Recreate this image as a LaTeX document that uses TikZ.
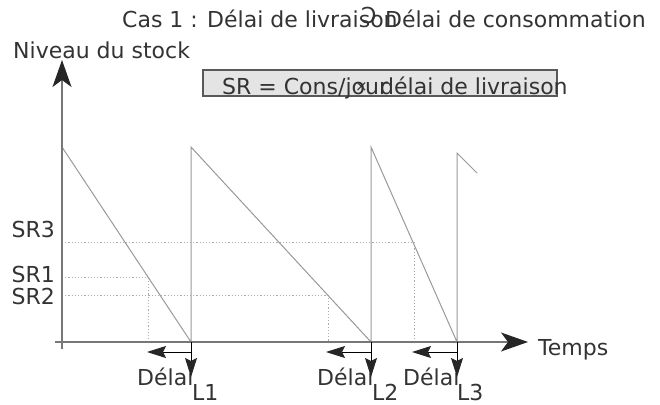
\documentclass[tikz,border=0pt]{standalone}
\usepackage{fontspec}
\setmainfont{DejaVu Sans}
\usepackage{tikz}
\usetikzlibrary{arrows.meta}
\definecolor{txtgray}{HTML}{333333}
\definecolor{sawgray}{HTML}{999999}
\definecolor{axisgray}{HTML}{777777}
\definecolor{boxgray}{HTML}{E4E4E4}

\begin{document}
\begin{tikzpicture}[x=1pt,y=-1pt,
    lbl/.style={inner sep=0pt,anchor=base west,text=txtgray,font=\fontsize{22}{26}\selectfont},
    lblr/.style={lbl,anchor=base east},
    saw/.style={draw=sawgray,line width=1pt},
    guide/.style={draw=sawgray!80,line width=1pt,dash pattern=on 1.2pt off 2pt},
    axis/.style={draw=axisgray,line width=1.3pt},
    bigtip/.style={-{Stealth[length=27pt,width=19pt,inset=7pt,color=black!85]}},
    delai/.style={draw=black,line width=1pt,-{Stealth[length=19pt,width=12pt,inset=3pt,color=black!85]}},
    srbox/.style={draw=black!65,fill=boxgray,line width=1.3pt,inner sep=0pt}]
        \useasboundingbox (0,0) rectangle (660,404);
        %Points
        \coordinate (ybot) at (62,349);
        \coordinate (ytip) at (62,60);
        \coordinate (xbeg) at (55,342);
        \coordinate (xtip) at (528,342);
        \coordinate (p0) at (62,147);
        \coordinate (b1) at (191,342);
        \coordinate (p1) at (191,147);
        \coordinate (b2) at (371,342);
        \coordinate (p2) at (371,147);
        \coordinate (b3) at (457,342);
        \coordinate (p3) at (457,153);
        \coordinate (e3) at (477,173);
        %Title
        \node[lbl] (cas) at (122,28) {Cas 1 : Délai de livraison};
        \node[lbl] (sym) at (361,24) {Ↄ};
        \node[lbl] (cons) at (385,28) {Délai de consommation};
        \node[lbl] (niveau) at (13,58) {Niveau du stock};
        %Formula
        \node[srbox,minimum width=354pt,minimum height=26pt] (box) at (380,83) {};
        \node[lbl] (sra) at (222,94) {SR = Cons/jour};
        \node[lbl,font=\fontsize{15}{18}\selectfont] (fois) at (355,91) {×};
        \node[lbl] (srb) at (380,94) {délai de livraison};
        %Levels
        \coordinate (s3) at (62,242);
        \coordinate (s3r) at (414,242);
        \coordinate (s3b) at (414,342);
        \coordinate (s1) at (62,277);
        \coordinate (s1r) at (148,277);
        \coordinate (s1b) at (148,342);
        \coordinate (s2) at (62,295);
        \coordinate (s2r) at (328,295);
        \coordinate (s2b) at (328,342);
        \draw[guide] (s3) -- (s3r) -- (s3b);
        \draw[guide] (s1) -- (s1r) -- (s1b);
        \draw[guide] (s2) -- (s2r) -- (s2b);
        \node[lblr] (sr3) at (55,237) {SR3};
        \node[lblr] (sr1) at (55,282) {SR1};
        \node[lblr] (sr2) at (55,304) {SR2};
        %Stock
        \draw[saw] (p0) -- (b1) -- (p1) -- (b2) -- (p2) -- (b3) -- (p3) -- (e3);
        %Axis
        \draw[axis,bigtip] (ybot) -- (ytip);
        \draw[axis,bigtip] (xbeg) -- (xtip);
        \node[lbl] (temps) at (538,355) {Temps};
        %Delays
        \node[lbl] (del1) at (137,385) {Délai};
        \node[lbl] (del2) at (317,385) {Délai};
        \node[lbl] (del3) at (403,385) {Délai};
        \coordinate (h1) at (191,352);
        \coordinate (t1) at (147,352);
        \coordinate (d1) at (191,377);
        \coordinate (h2) at (371,352);
        \coordinate (t2) at (326,352);
        \coordinate (d2) at (371,377);
        \coordinate (h3) at (457,352);
        \coordinate (t3) at (412,352);
        \coordinate (d3) at (457,377);
        \draw[delai] (h1) -- (t1);
        \draw[delai] (b1) -- (d1);
        \draw[delai] (h2) -- (t2);
        \draw[delai] (b2) -- (d2);
        \draw[delai] (h3) -- (t3);
        \draw[delai] (b3) -- (d3);
        \node[lbl] (l1) at (192,400) {L1};
        \node[lbl] (l2) at (372,400) {L2};
        \node[lbl] (l3) at (457,400) {L3};
\end{tikzpicture}
\end{document}
